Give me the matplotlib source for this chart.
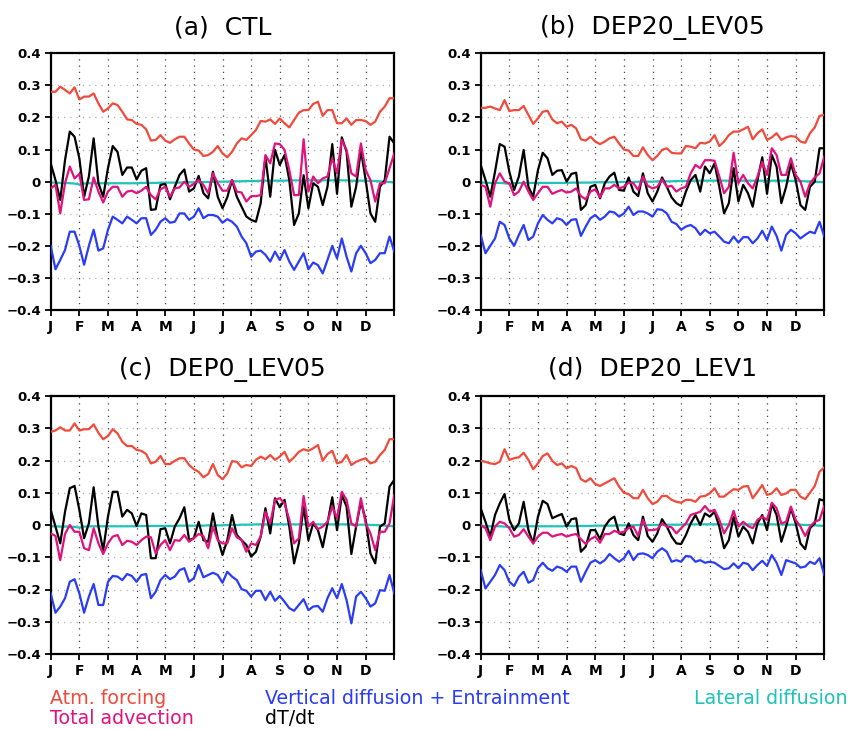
import matplotlib
matplotlib.use("Agg")
import matplotlib.pyplot as plt
import numpy as np

plt.rcParams['font.family'] = ['DejaVu Sans']

months = ["J", "F", "M", "A", "M", "J", "J", "A", "S", "O", "N", "D"]
titles = ["(a)  CTL", "(b)  DEP20_LEV05", "(c)  DEP0_LEV05", "(d)  DEP20_LEV1"]
legend_labels = ["Atm. forcing", "Total advection", "Vertical diffusion + Entrainment",
                 "dT/dt", "Lateral diffusion"]

# ---------------- (a) CTL ----------------
ctl_atm = [0.28,0.28,0.296,0.286,0.275,0.294,0.256,0.265,0.265,0.275,
           0.244,0.218,0.228,0.244,0.239,0.218,0.194,0.192,0.18,0.177,
           0.163,0.128,0.13,0.145,0.128,0.121,0.132,0.14,0.14,0.119,
           0.1,0.097,0.08,0.083,0.093,0.111,0.088,0.076,0.093,0.119,
           0.135,0.13,0.145,0.161,
           0.189,0.187,0.194,0.18,0.197,0.182,0.169,0.192,0.215,0.223,
           0.223,0.242,0.249,0.205,0.223,0.223,0.182,0.182,0.197,0.177,
           0.192,0.192,0.189,0.177,0.187,0.218,0.234,0.26,0.26]
ctl_vdiff = [-0.2,-0.273,-0.244,-0.213,-0.156,-0.156,-0.2,-0.259,-0.2,-0.15,
             -0.215,-0.208,-0.15,-0.109,-0.119,-0.13,-0.109,-0.119,-0.13,-0.114,
             -0.114,-0.166,-0.15,-0.125,-0.114,-0.128,-0.125,-0.099,-0.099,-0.119,
             -0.109,-0.083,-0.114,-0.104,-0.104,-0.109,-0.128,-0.117,-0.125,-0.14,
             -0.171,-0.192,-0.234,-0.218,
             -0.215,-0.228,-0.249,-0.218,-0.244,-0.213,-0.249,-0.275,-0.249,-0.223,
             -0.273,-0.252,-0.26,-0.286,-0.244,-0.2,-0.239,-0.177,-0.234,-0.28,
             -0.223,-0.2,-0.223,-0.254,-0.244,-0.223,-0.223,-0.171,-0.218]
ctl_dtdt = [0.057,0.005,-0.057,0.067,0.156,0.14,0.073,-0.047,0.016,0.135,
            -0.005,-0.047,0.042,0.111,0.093,0.021,0.044,0.044,0.007,0.034,
            0.042,-0.088,-0.086,-0.01,-0.007,-0.055,-0.016,0.021,0.038,-0.031,
            -0.021,0.018,-0.036,-0.052,0.031,-0.047,-0.083,-0.049,0.005,-0.047,
            -0.078,-0.109,-0.119,-0.125,
            -0.067,0.078,-0.047,0.099,0.052,0.083,0.005,-0.135,-0.099,0.02,
            -0.083,-0.005,-0.016,-0.073,-0.016,0.117,-0.038,0.138,0.093,-0.078,
            -0.016,0.099,0.005,-0.099,-0.125,-0.016,0.005,0.14,0.119]
ctl_adv = [-0.021,-0.01,-0.099,-0.005,0.047,0.01,0.024,-0.057,-0.055,0.013,
           -0.031,-0.065,-0.031,-0.016,-0.016,-0.047,-0.031,-0.028,-0.036,-0.028,
           -0.016,-0.042,-0.055,-0.024,-0.016,-0.047,-0.021,-0.018,0.0,-0.016,
           -0.007,0.005,-0.01,-0.036,0.026,-0.005,-0.028,-0.028,0.005,-0.031,
           -0.034,-0.062,-0.045,-0.045,
           -0.042,0.083,0.057,0.119,0.117,0.099,0.036,-0.042,-0.042,0.132,
           -0.031,0.016,-0.005,0.01,0.016,0.073,0.026,0.13,0.099,0.026,
           0.016,0.119,0.036,0.005,-0.062,-0.005,-0.005,0.042,0.088]
ctl_ldiff = [-0.003,-0.003,-0.004,-0.004,-0.005,-0.006,-0.009,-0.006,-0.005,-0.005,
             -0.005,-0.005,-0.005,-0.005,-0.005,-0.005,-0.005,-0.005,-0.005,-0.004,
             -0.004,-0.004,-0.004,-0.003,-0.003,-0.003,-0.003,-0.003,-0.002,-0.002,
             -0.002,-0.002,-0.001,-0.001,-0.001,0.0,0.0,0.0,0.001,0.001,
             0.001,0.002,0.002,0.002,0.003,0.003,0.003,0.003,0.003,0.003,
             0.004,0.004,0.004,0.004,0.004,0.004,0.004,0.004,0.004,0.004,
             0.004,0.004,0.004,0.003,0.003,0.003,0.003,0.002,0.002,0.001,
             0.0,-0.001,-0.003]

# ---------------- (b) DEP20_LEV05 ----------------
b_atm = [0.23,0.23,0.234,0.228,0.223,0.254,0.22,0.223,0.223,0.236,
         0.208,0.18,0.197,0.218,0.221,0.194,0.182,0.187,0.171,0.177,
         0.166,0.132,0.128,0.14,0.125,0.117,0.125,0.135,0.14,0.119,
         0.1,0.097,0.08,0.08,0.107,0.083,0.067,0.08,0.099,0.104,
         0.09,0.088,0.088,0.111,
         0.109,0.104,0.121,0.119,0.125,0.145,0.111,0.125,0.145,0.156,
         0.156,0.163,0.171,0.132,0.151,0.163,0.13,0.138,0.151,0.13,
         0.138,0.142,0.14,0.125,0.121,0.151,0.169,0.205,0.208]
b_vdiff = [-0.166,-0.223,-0.2,-0.177,-0.125,-0.135,-0.177,-0.2,-0.166,-0.135,
           -0.182,-0.171,-0.13,-0.104,-0.119,-0.13,-0.114,-0.119,-0.135,-0.119,
           -0.117,-0.169,-0.14,-0.114,-0.104,-0.119,-0.109,-0.093,-0.096,-0.109,
           -0.099,-0.078,-0.104,-0.093,-0.093,-0.099,-0.109,-0.086,-0.088,-0.099,
           -0.125,-0.132,-0.15,-0.14,
           -0.135,-0.145,-0.166,-0.15,-0.161,-0.156,-0.171,-0.187,-0.192,-0.171,
           -0.19,-0.173,-0.173,-0.192,-0.177,-0.153,-0.182,-0.14,-0.169,-0.215,
           -0.166,-0.15,-0.161,-0.177,-0.166,-0.156,-0.161,-0.125,-0.171]
b_dtdt = [0.052,0.005,-0.047,0.031,0.117,0.109,0.031,-0.026,0.016,0.099,
          -0.016,-0.047,0.036,0.09,0.073,0.021,0.034,0.036,0.0,0.024,
          0.028,-0.088,-0.073,-0.016,-0.01,-0.052,-0.005,0.016,0.028,-0.026,
          -0.028,0.013,-0.031,-0.045,0.026,-0.036,-0.062,-0.031,0.013,-0.016,
          -0.049,-0.067,-0.076,-0.031,
          0.005,0.021,-0.031,0.047,0.026,0.057,-0.016,-0.099,-0.067,0.042,
          -0.062,-0.01,-0.036,-0.078,0.005,0.076,-0.038,0.083,0.047,-0.067,
          -0.016,0.057,0.005,-0.073,-0.088,-0.016,0.0,0.104,0.104]
b_adv = [-0.01,-0.016,-0.078,-0.005,0.026,0.0,-0.005,-0.042,-0.031,0.0,
         -0.031,-0.057,-0.036,-0.016,-0.016,-0.038,-0.031,-0.026,-0.034,-0.031,
         -0.021,-0.045,-0.055,-0.031,-0.024,-0.049,-0.021,-0.021,-0.01,-0.021,
         -0.016,-0.003,-0.005,-0.026,0.016,-0.013,-0.021,-0.016,0.007,-0.016,
         -0.013,-0.031,-0.021,-0.016,
         0.026,0.052,0.042,0.067,0.067,0.065,0.016,-0.036,-0.016,0.09,
         -0.005,0.021,-0.005,-0.021,0.016,0.062,0.021,0.104,0.083,0.021,
         0.021,0.073,0.021,0.0,-0.047,-0.005,0.013,0.026,0.078]
b_ldiff = [-0.003,-0.003,-0.004,-0.004,-0.004,-0.005,-0.007,-0.005,-0.004,-0.004,
           -0.004,-0.004,-0.004,-0.004,-0.004,-0.004,-0.004,-0.004,-0.004,-0.003,
           -0.003,-0.003,-0.003,-0.003,-0.002,-0.002,-0.002,-0.002,-0.002,-0.001,
           -0.001,-0.001,-0.001,0.0,0.0,0.0,0.0,0.001,0.001,0.001,
           0.001,0.002,0.002,0.002,0.002,0.003,0.003,0.003,0.003,0.003,
           0.003,0.003,0.003,0.003,0.003,0.003,0.003,0.003,0.003,0.003,
           0.003,0.003,0.003,0.003,0.003,0.002,0.002,0.002,0.001,0.001,
           0.0,-0.001,-0.002]

# ---------------- (c) DEP0_LEV05 ----------------
c_atm = [0.289,0.293,0.303,0.293,0.293,0.315,0.293,0.297,0.297,0.312,
         0.286,0.266,0.276,0.297,0.284,0.258,0.245,0.245,0.233,0.23,
         0.22,0.191,0.196,0.214,0.189,0.189,0.199,0.207,0.207,0.186,
         0.173,0.165,0.148,0.158,0.189,0.155,0.142,0.16,0.198,0.196,
         0.179,0.186,0.183,0.202,
         0.212,0.204,0.217,0.202,0.212,0.227,0.196,0.21,0.227,0.235,
         0.23,0.238,0.248,0.199,0.22,0.23,0.191,0.196,0.217,0.186,
         0.196,0.202,0.207,0.191,0.196,0.217,0.233,0.266,0.266]
c_vdiff = [-0.212,-0.272,-0.253,-0.227,-0.176,-0.168,-0.212,-0.272,-0.222,-0.183,
           -0.248,-0.248,-0.176,-0.158,-0.16,-0.171,-0.152,-0.158,-0.176,-0.155,
           -0.152,-0.227,-0.207,-0.171,-0.155,-0.168,-0.16,-0.14,-0.134,-0.176,
           -0.165,-0.124,-0.162,-0.155,-0.148,-0.155,-0.179,-0.145,-0.16,-0.171,
           -0.199,-0.204,-0.222,-0.204,
           -0.204,-0.233,-0.207,-0.235,-0.22,-0.238,-0.258,-0.266,-0.248,-0.23,
           -0.264,-0.253,-0.251,-0.269,-0.227,-0.196,-0.227,-0.183,-0.233,-0.305,
           -0.222,-0.207,-0.227,-0.253,-0.243,-0.202,-0.204,-0.155,-0.212]
c_dtdt = [0.047,-0.005,-0.057,0.041,0.114,0.121,0.047,-0.041,0.005,0.117,
          -0.005,-0.078,0.026,0.103,0.103,0.026,0.047,0.036,-0.003,0.036,
          0.031,-0.103,-0.103,-0.013,-0.01,-0.057,-0.005,0.021,0.055,-0.047,
          -0.041,0.01,-0.047,-0.052,0.036,-0.041,-0.093,-0.047,0.031,-0.031,
          -0.047,-0.062,-0.098,-0.083,
          -0.036,0.052,-0.026,0.083,0.055,0.078,-0.005,-0.119,-0.057,0.057,
          -0.047,0.005,-0.016,-0.069,0.005,0.086,-0.016,0.093,0.057,-0.09,
          -0.005,0.072,0.016,-0.088,-0.119,-0.005,0.005,0.119,0.14]
c_adv = [-0.026,-0.034,-0.109,-0.028,0.0,-0.021,-0.021,-0.072,-0.078,-0.01,
         -0.057,-0.09,-0.057,-0.036,-0.031,-0.062,-0.049,-0.052,-0.062,-0.047,
         -0.036,-0.038,-0.088,-0.062,-0.047,-0.078,-0.047,-0.049,-0.031,-0.052,
         -0.041,-0.028,-0.034,-0.072,-0.005,-0.047,-0.057,-0.057,-0.01,-0.038,
         -0.047,-0.083,-0.057,-0.062,
         -0.036,0.041,0.005,0.078,0.083,0.067,0.016,-0.057,-0.041,0.09,
         -0.005,0.01,-0.013,-0.005,0.01,0.057,0.021,0.103,0.078,0.005,
         -0.005,0.083,0.005,-0.026,-0.078,-0.021,-0.021,0.005,0.093]
c_ldiff = [-0.004,-0.004,-0.005,-0.005,-0.005,-0.006,-0.008,-0.005,-0.004,-0.004,
           -0.004,-0.004,-0.004,-0.004,-0.004,-0.004,-0.004,-0.004,-0.004,-0.003,
           -0.003,-0.003,-0.003,-0.003,-0.003,-0.003,-0.003,-0.002,-0.002,-0.002,
           -0.002,-0.002,-0.002,-0.001,-0.001,-0.001,-0.001,0.0,0.0,0.0,
           0.001,0.001,0.001,0.002,0.002,0.002,0.002,0.002,0.002,0.002,
           0.002,0.002,0.002,0.002,0.002,0.002,0.002,0.002,0.002,0.002,
           0.002,0.002,0.002,0.001,0.001,0.001,0.001,0.0,0.0,-0.001,
           -0.002,-0.003,-0.004]

# ---------------- (d) DEP20_LEV1 ----------------
d_atm = [0.199,0.196,0.191,0.189,0.196,0.235,0.202,0.207,0.21,0.224,
         0.202,0.173,0.191,0.214,0.222,0.199,0.186,0.191,0.176,0.183,
         0.176,0.142,0.134,0.145,0.127,0.121,0.129,0.137,0.145,0.119,
         0.1,0.096,0.083,0.083,0.109,0.083,0.065,0.072,0.09,0.09,
         0.078,0.072,0.069,0.078,
         0.078,0.072,0.088,0.09,0.098,0.114,0.088,0.088,0.1,0.111,
         0.109,0.119,0.121,0.083,0.103,0.124,0.093,0.098,0.114,0.093,
         0.098,0.109,0.109,0.088,0.08,0.1,0.121,0.165,0.179]
d_vdiff = [-0.14,-0.197,-0.176,-0.155,-0.124,-0.14,-0.176,-0.189,-0.16,-0.145,
           -0.179,-0.171,-0.134,-0.117,-0.134,-0.142,-0.129,-0.134,-0.145,-0.129,
           -0.129,-0.176,-0.145,-0.117,-0.109,-0.119,-0.109,-0.09,-0.103,-0.114,
           -0.103,-0.08,-0.109,-0.09,-0.088,-0.093,-0.103,-0.083,-0.072,-0.083,
           -0.114,-0.109,-0.114,-0.096,
           -0.098,-0.114,-0.109,-0.117,-0.114,-0.117,-0.127,-0.137,-0.134,-0.119,
           -0.134,-0.117,-0.121,-0.14,-0.124,-0.111,-0.127,-0.093,-0.117,-0.155,
           -0.109,-0.114,-0.119,-0.132,-0.129,-0.114,-0.121,-0.103,-0.155]
d_dtdt = [0.052,0.01,-0.036,0.031,0.067,0.096,0.016,-0.016,0.005,0.072,
          -0.016,-0.057,0.026,0.075,0.065,0.021,0.028,0.034,-0.005,0.018,
          0.021,-0.083,-0.067,-0.016,-0.016,-0.044,-0.005,0.016,0.026,-0.026,
          -0.031,0.005,-0.031,-0.047,0.026,-0.034,-0.052,-0.026,0.018,-0.005,
          -0.036,-0.057,-0.059,-0.031,
          0.005,0.031,0.0,0.036,0.026,0.041,-0.005,-0.072,-0.047,0.026,
          -0.036,-0.005,-0.021,-0.057,0.005,0.031,-0.016,0.065,0.031,-0.052,
          -0.005,0.052,0.005,-0.057,-0.075,-0.01,0.005,0.08,0.075]
d_adv = [0.0,-0.01,-0.047,-0.005,0.01,0.005,-0.01,-0.036,-0.031,-0.013,
         -0.036,-0.057,-0.036,-0.024,-0.024,-0.036,-0.031,-0.028,-0.036,-0.031,
         -0.028,-0.044,-0.059,-0.044,-0.036,-0.055,-0.028,-0.028,-0.018,-0.024,
         -0.021,-0.01,-0.005,-0.034,0.016,-0.016,-0.016,-0.013,0.005,-0.005,
         -0.007,-0.026,-0.01,0.005,
         0.031,0.036,0.041,0.059,0.041,0.047,0.016,-0.026,0.0,0.044,
         -0.005,0.01,-0.003,-0.01,0.016,0.026,0.016,0.069,0.052,0.005,
         0.01,0.057,0.016,-0.005,-0.034,-0.005,0.01,0.016,0.059]
d_ldiff = [-0.003,-0.003,-0.004,-0.004,-0.004,-0.005,-0.006,-0.005,-0.004,-0.004,
           -0.004,-0.004,-0.004,-0.004,-0.004,-0.004,-0.004,-0.004,-0.003,-0.003,
           -0.003,-0.003,-0.003,-0.003,-0.002,-0.002,-0.002,-0.002,-0.002,-0.001,
           -0.001,-0.001,-0.001,0.0,0.0,0.0,0.0,0.0,0.001,0.001,
           0.001,0.001,0.001,0.002,0.002,0.002,0.002,0.002,0.002,0.002,
           0.002,0.002,0.002,0.002,0.002,0.002,0.002,0.002,0.002,0.002,
           0.002,0.002,0.002,0.002,0.001,0.001,0.001,0.001,0.0,0.0,
           -0.001,-0.002,-0.003]

panels = [
    (ctl_atm, ctl_adv, ctl_vdiff, ctl_dtdt, ctl_ldiff),
    (b_atm, b_adv, b_vdiff, b_dtdt, b_ldiff),
    (c_atm, c_adv, c_vdiff, c_dtdt, c_ldiff),
    (d_atm, d_adv, d_vdiff, d_dtdt, d_ldiff),
]

col_atm = "#f04a3c"
col_adv = "#e0127e"
col_vdiff = "#2a3cf5"
col_dtdt = "#000000"
col_ldiff = "#1ec4b8"
series_colors = [col_atm, col_adv, col_vdiff, col_dtdt, col_ldiff]
zorders = [3, 5, 3, 4, 2]

W, H = 850, 729
fig = plt.figure(figsize=(W / 100, H / 100), dpi=100)

# axes boxes in pixels: (left, top, right, bottom)
boxes = [(50.7, 53.3, 394.3, 310.0), (480.7, 53.3, 824.3, 310.0),
         (50.7, 396.0, 394.3, 654.0), (480.7, 396.0, 824.3, 654.0)]
title_y = [27, 27, 370, 370]

yticks = [-0.4, -0.3, -0.2, -0.1, 0.0, 0.1, 0.2, 0.3, 0.4]
ylabels = ["\u22120.4", "\u22120.3", "\u22120.2", "\u22120.1", "0", "0.1", "0.2", "0.3", "0.4"]

for k, (box, series, title) in enumerate(zip(boxes, panels, titles)):
    l, t, r, b = box
    ax = fig.add_axes([l / W, 1 - b / H, (r - l) / W, (b - t) / H])
    n = len(series[0])
    x = np.arange(n)
    for s, c, z in zip(series, series_colors, zorders):
        assert len(s) == n, (title, len(s))
        ax.plot(x, s, color=c, lw=1.6, zorder=z)
    ax.set_xlim(0, n - 1)
    ax.set_ylim(-0.4, 0.4)
    mt = np.arange(12) * (n - 1) / 12.0
    ax.set_xticks(list(mt) + [n - 1])
    ax.set_xticklabels(months + [""], fontsize=10, fontweight="bold")
    ax.set_yticks(yticks)
    ax.set_yticklabels(ylabels, fontsize=9.5, fontweight="bold")
    ax.tick_params(direction="out", length=4, width=1.3, pad=3)
    for yy in yticks[1:-1]:
        ax.axhline(yy, color="#b0b0b0", lw=0.9, ls=(0, (1, 4)), zorder=1)
    for xx in mt[1:]:
        ax.axvline(xx, color="#404040", lw=0.9, ls=(0, (1, 4)), zorder=1)
    for sp in ax.spines.values():
        sp.set_linewidth(1.6)
    fig.text((l + r) / 2 / W, 1 - title_y[k] / H, title, fontsize=18,
             ha="center", va="center")

# legend text
fs = 13.7
fig.text(50 / W, 1 - 698 / H, legend_labels[0], color=col_atm, fontsize=fs, va="center")
fig.text(50 / W, 1 - 719 / H, legend_labels[1], color=col_adv, fontsize=fs, va="center")
fig.text(265 / W, 1 - 698 / H, legend_labels[2], color=col_vdiff, fontsize=fs, va="center")
fig.text(265 / W, 1 - 719 / H, legend_labels[3], color=col_dtdt, fontsize=fs, va="center")
fig.text(848 / W, 1 - 698 / H, legend_labels[4], color=col_ldiff, fontsize=fs,
         va="center", ha="right")

fig.savefig("out.png", dpi=100)
